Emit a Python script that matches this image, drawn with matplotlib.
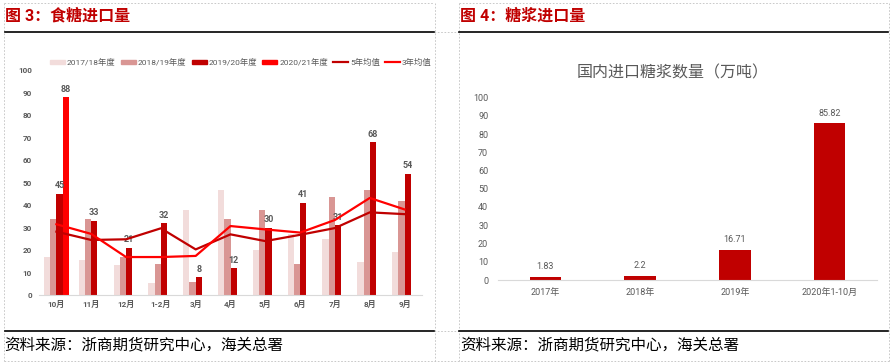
import matplotlib
matplotlib.use("Agg")
import matplotlib.pyplot as plt
import numpy as np
from matplotlib.lines import Line2D
from matplotlib.patches import Patch

plt.rcParams['font.family'] = ['Roboto', 'Noto Sans CJK SC', 'DejaVu Sans']

# ---- data: 图3 食糖进口量 (万吨)
months = ['10月', '11月', '12月', '1-2月', '3月', '4月', '5月', '6月', '7月', '8月', '9月']
s1718 = [17, 15.6, 13.2, 5.2, 37.8, 46.7, 20, 27, 24.8, 14.7, 19]
s1819 = [33.7, 33.7, 16.8, 13.8, 5.8, 33.7, 37.8, 13.8, 43.6, 46.6, 41.8]
s1920 = [45, 33, 21, 32, 8, 12, 30, 41, 31, 68, 54]
s2021 = [88, np.nan, np.nan, np.nan, np.nan, np.nan, np.nan, np.nan, np.nan, np.nan, np.nan]
avg5 = [28.2, 24.5, 24.8, 29.7, 20.3, 27, 24, 26.8, 29.8, 36.8, 36]
avg3 = [31.5, 27.2, 16.9, 16.9, 17.4, 30.7, 29.2, 27.8, 33.4, 43.2, 38.1]

# ---- data: 图4 糖浆进口量
years = ['2017年', '2018年', '2019年', '2020年1-10月']
syrup = [1.83, 2.2, 16.71, 85.82]

W, H = 894, 364
fig = plt.figure(figsize=(W / 100, H / 100), dpi=100)

def fx(x):
    return x / W

def fy(y):
    return 1 - y / H

def hline(y, x0, x1, **kw):
    fig.add_artist(Line2D([fx(x0), fx(x1)], [fy(y), fy(y)], transform=fig.transFigure, **kw))

def vline(x, y0, y1, **kw):
    fig.add_artist(Line2D([fx(x), fx(x)], [fy(y0), fy(y1)], transform=fig.transFigure, **kw))

dash = dict(color='#C0C0C0', lw=0.6, ls=(0, (2, 2)))
hline(3, 4, 434, **dash)
hline(3, 459, 889, **dash)
hline(32, 434, 459, **dash)
hline(331, 434, 459, **dash)
hline(361, 4, 889, **dash)
for xx in (4, 434.5, 459, 889):
    vline(xx, 3, 361, **dash)

solid = dict(color='black', lw=1.2)
hline(32, 5, 434, **solid)
hline(32, 459, 888, **solid)
hline(331, 5, 434, **solid)
hline(331, 459, 888, **solid)

red_title = '#C00000'
fig.text(fx(5), fy(16), '图 3：食糖进口量', fontsize=11.5, fontweight='bold', color=red_title, va='center', ha='left')
fig.text(fx(460), fy(16), '图 4：糖浆进口量', fontsize=11.5, fontweight='bold', color=red_title, va='center', ha='left')
fig.text(fx(4), fy(345), '资料来源：浙商期货研究中心，海关总署', fontsize=11.2, color='black', va='center', ha='left')
fig.text(fx(460), fy(345), '资料来源：浙商期货研究中心，海关总署', fontsize=11.2, color='black', va='center', ha='left')

gray = '#595959'
c1, c2, c3, c4 = '#F2DCDB', '#D99694', '#C00000', '#FF0000'

# ---- left chart
ax = fig.add_axes([fx(39), fy(295), fx(422) - fx(39), fy(70.4) - fy(295)])
x = np.arange(len(months))
w = 0.18
ax.bar(x - 1.5 * w, s1718, w, color=c1, zorder=2)
ax.bar(x - 0.5 * w, s1819, w, color=c2, zorder=2)
ax.bar(x + 0.5 * w, s1920, w, color=c3, zorder=2)
ax.bar(x + 1.5 * w, s2021, w, color=c4, zorder=2)
ax.plot(x, avg5, color=c3, lw=1.6, zorder=4)
ax.plot(x, avg3, color=c4, lw=1.6, zorder=4)
for i, v in enumerate(s1920):
    ax.annotate(f'{v:g}', (x[i] + 0.5 * w, v), xytext=(0, 2.5), textcoords='offset points',
                ha='center', va='bottom', fontsize=6.5, fontweight='bold', color=gray, zorder=3)
for i, v in enumerate(s2021):
    if not np.isnan(v):
        ax.annotate(f'{v:g}', (x[i] + 1.5 * w, v), xytext=(0, 2.5), textcoords='offset points',
                    ha='center', va='bottom', fontsize=6.5, fontweight='bold', color=gray, zorder=3)
ax.set_xlim(-0.5, len(months) - 0.5)
ax.set_ylim(0, 100)
ax.set_yticks(range(0, 101, 10))
ax.set_xticks(x)
ax.set_xticklabels(months, fontweight='bold')
ax.tick_params(axis='y', length=0, pad=5, labelsize=5.8, labelcolor=gray)
ax.tick_params(axis='x', length=0, pad=3.5, labelsize=5.8, labelcolor=gray)
for lab in ax.get_yticklabels():
    lab.set_fontweight('bold')
for s in ('top', 'right', 'left'):
    ax.spines[s].set_visible(False)
ax.spines['bottom'].set_color('#D9D9D9')
ax.patch.set_alpha(0)

handles = [Patch(color=c1), Patch(color=c2), Patch(color=c3), Patch(color=c4),
           Line2D([], [], color=c3, lw=1.6), Line2D([], [], color=c4, lw=1.6)]
labels = ['2017/18年度', '2018/19年度', '2019/20年度', '2020/21年度', '5年均值', '3年均值']
leg = fig.legend(handles, labels, ncol=6, loc='center left', bbox_to_anchor=(fx(50), fy(62)),
                 frameon=False, fontsize=6, handlelength=1.8, handleheight=0.5,
                 handletextpad=0.25, columnspacing=0.6, borderpad=0, borderaxespad=0)
for t in leg.get_texts():
    t.set_color(gray)

# ---- right chart
ax2 = fig.add_axes([fx(498), fy(280), fx(877) - fx(498), fy(97.5) - fy(280)])
x2 = np.arange(len(years))
ax2.bar(x2, syrup, 0.33, color=c3, zorder=2)
for i, v in enumerate(syrup):
    ax2.annotate(f'{v:g}', (x2[i], v), xytext=(0, 4), textcoords='offset points',
                 ha='center', va='bottom', fontsize=6.5, color=gray)
ax2.set_xlim(-0.5, len(years) - 0.5)
ax2.set_ylim(0, 100)
ax2.set_yticks(range(0, 101, 10))
ax2.set_xticks(x2)
ax2.set_xticklabels(years)
ax2.tick_params(axis='y', length=0, pad=7, labelsize=6.5, labelcolor=gray)
ax2.tick_params(axis='x', length=0, pad=6, labelsize=6.5, labelcolor=gray)
for s in ('top', 'right', 'left'):
    ax2.spines[s].set_visible(False)
ax2.spines['bottom'].set_color('#D9D9D9')
ax2.patch.set_alpha(0)
fig.text(fx(673), fy(73), '国内进口糖浆数量（万吨）', fontsize=11.5, color=gray, ha='center', va='center')

fig.savefig('out.png', dpi=100)
